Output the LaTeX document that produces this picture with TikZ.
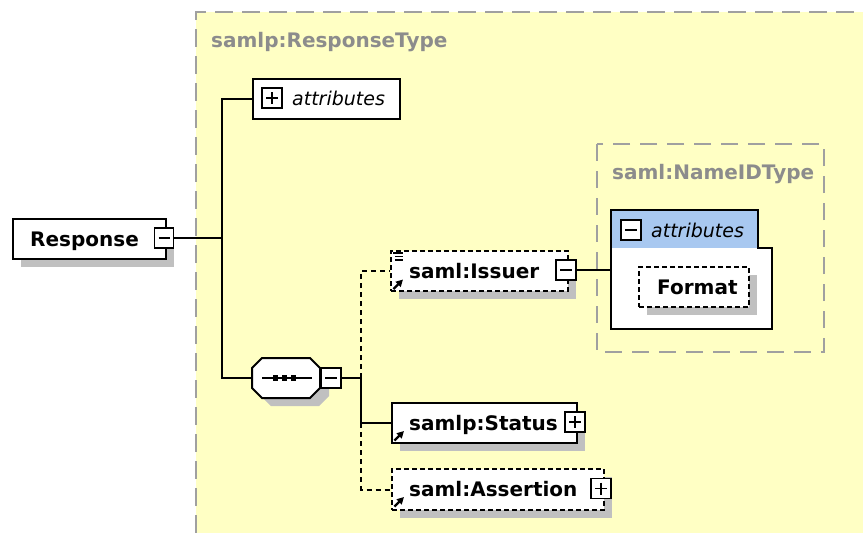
\documentclass[tikz,border=0pt]{standalone}
\usepackage{fontspec}
\setmainfont{DejaVu Sans}
\usetikzlibrary{shadows,arrows.meta}
\definecolor{bgyellow}{HTML}{FFFFC4}
\definecolor{frame}{HTML}{A0A0A0}
\definecolor{lbl}{HTML}{8C8C8C}
\definecolor{tabblue}{HTML}{A8C8F0}
\definecolor{shad}{HTML}{C0C0C0}
\tikzset{
  shd/.style={drop shadow={shadow xshift=8pt, shadow yshift=-8pt, fill=shad, opacity=1}},
  ebox/.style={draw, fill=white, line width=2pt, anchor=north west, inner sep=0pt},
  elem/.style={ebox, shd},
  optelem/.style={ebox, shd, dash pattern=on 5pt off 3pt},
  pmbox/.style={draw, fill=white, line width=1.8pt, minimum width=20pt, minimum height=20pt, inner sep=0pt},
  minusbox/.style={pmbox, path picture={\draw[line width=1.6pt] ([xshift=4pt]path picture bounding box.west) -- ([xshift=-4pt]path picture bounding box.east);}},
  plusbox/.style={pmbox, path picture={\draw[line width=1.6pt] ([xshift=4pt]path picture bounding box.west) -- ([xshift=-4pt]path picture bounding box.east) ([yshift=-4pt]path picture bounding box.north) -- ([yshift=4pt]path picture bounding box.south);}},
  elname/.style={anchor=base west, inner sep=0pt, font=\fontsize{20}{24}\selectfont\bfseries},
  italtxt/.style={anchor=base west, inner sep=0pt, font=\fontsize{19}{23}\selectfont\itshape},
  grplabel/.style={anchor=base west, inner sep=0pt, text=lbl, font=\fontsize{20}{24}\selectfont\bfseries},
  conn/.style={line width=2pt},
  optconn/.style={line width=2pt, dash pattern=on 5pt off 4pt},
  refarrow/.style={line width=2.4pt, -{Triangle[length=7pt,width=7pt]}},
}
\begin{document}
\begin{tikzpicture}[x=1pt,y=-1pt]
\useasboundingbox (0,0) rectangle (863,533);
% complex type area
\fill[bgyellow] (196,12) rectangle (863,533);
\draw[frame, line width=2pt, dash pattern=on 18pt off 9pt] (196,533) -- (196,12) -- (863,12);
\node[grplabel] (rtype) at (211,47) {samlp:ResponseType};

% Response element
\node[elem, minimum width=153pt, minimum height=40pt] (resp) at (12,218) {};
\node[elname] (resptxt) at (30,246) {Response};
\node[minusbox, minimum width=19pt] (rmin) at (164,238) {};

% attributes
\node[ebox, minimum width=147pt, minimum height=40pt] (attr) at (252,78) {};
\node[plusbox] (attrplus) at (272,98) {};
\node[italtxt] (attrtxt) at (292,105) {attributes};

% sequence compositor
\node[anchor=north west, inner sep=0pt, minimum width=68pt, minimum height=40pt] (seq) at (252,358) {};
\fill[shad] (261,376) -- (271,366) -- (319,366) -- (329,376) -- (329,396) -- (319,406) -- (271,406) -- (261,396) -- cycle;
\draw[line width=2pt, fill=white] (252,368) -- (262,358) -- (310,358) -- (320,368) -- (320,388) -- (310,398) -- (262,398) -- (252,388) -- cycle;
\draw[line width=1.8pt] (262,378) -- (312,378);
\fill (272.5,375) rectangle (278,381);
\fill (281.5,375) rectangle (287,381);
\fill (290.5,375) rectangle (296,381);
\node[minusbox] (smin) at (331,378) {};

% junctions
\coordinate (j1) at (222,238);
\coordinate (j2) at (361,378);
\draw[conn] (rmin.east) -- (j1);
\draw[conn] (j1) |- (attr.west);
\draw[conn] (j1) |- (seq.west);
\draw[conn] (smin.east) -- (j2);

% saml:Issuer
\node[optelem, minimum width=177pt, minimum height=40pt] (issuer) at (390,250) {};
\node[elname] (isstxt) at (409,278) {saml:Issuer};
\node[minusbox] (imin) at (566,270) {};
\draw[line width=1.3pt] (393,253) -- (403,253) (395,256.5) -- (403,256.5) (395,260) -- (403,260);
\draw[refarrow] (393.5,289) -- (403,279.5);

% samlp:Status
\node[elem, minimum width=185pt, minimum height=40pt] (status) at (391,402) {};
\node[elname] (statxt) at (409,430) {samlp:Status};
\node[plusbox] (splus) at (575,422) {};
\draw[refarrow] (394.5,440.5) -- (404,431);

% saml:Assertion
\node[optelem, minimum width=212pt, minimum height=41pt] (assertion) at (391,468) {};
\node[elname] (asrtxt) at (409,496) {saml:Assertion};
\node[plusbox] (aplus) at (601,488.5) {};
\draw[refarrow] (394.5,506.5) -- (404,497);

\draw[optconn] (j2) |- (issuer.west);
\draw[optconn] (j2) |- (assertion.west);
\draw[conn] (j2) |- (status.west);

% saml:NameIDType
\draw[frame, line width=2pt, dash pattern=on 17pt off 10pt] (597,144) rectangle (824,352);
\node[grplabel] (ntype) at (612,179) {saml:NameIDType};
\fill[white] (611,210) -- (758,210) -- (758,248) -- (772,248) -- (772,329) -- (611,329) -- cycle;
\fill[tabblue] (611,210) rectangle (758,248);
\draw[line width=2pt] (611,210) -- (758,210) -- (758,248) -- (772,248) -- (772,329) -- (611,329) -- cycle;
\coordinate (agw) at (611,270);
\node[minusbox] (amin) at (631,230) {};
\node[italtxt] (attr2txt) at (651,237) {attributes};
\node[optelem, minimum width=110pt, minimum height=40pt] (format) at (638,266) {};
\node[elname] (fmttxt) at (657,294) {Format};
\draw[conn] (imin.east) -- (agw);
\end{tikzpicture}
\end{document}
